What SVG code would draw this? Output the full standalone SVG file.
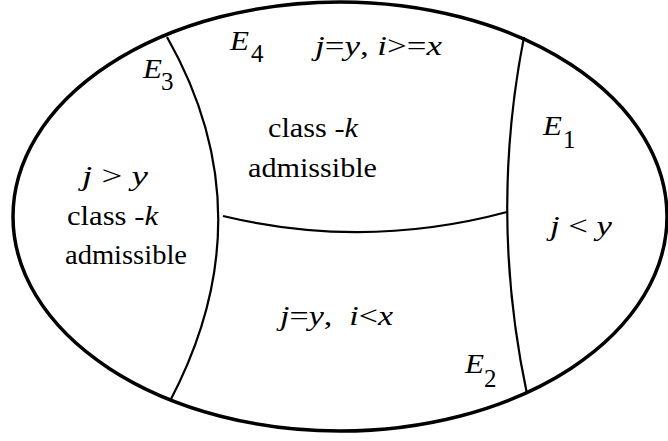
<svg xmlns="http://www.w3.org/2000/svg" width="668" height="441" viewBox="0 0 668 441">
<style>
.t{font-size:27px}
.i{font-style:italic}
.e{font-size:28px;font-style:italic}
.s{font-size:25px}
.outer{fill:none;stroke:#000;stroke-width:3.5}
.div{fill:none;stroke:#000;stroke-width:2.2}
</style>
<rect width="668" height="441" fill="#fff"/>
<g id="boundary">
<ellipse class="outer" cx="340" cy="216.5" rx="327" ry="214.5"/>
</g>
<g id="connectors">
<path class="div" d="M167,37 Q268,215 170,401"/>
<path class="div" d="M524,37 Q489,215 527,394"/>
<path class="div" d="M223,216 Q365,250 507,212"/>
</g>
<g id="E3" style="font-family:'Liberation Serif'">
<text class="e" x="143" y="78" textLength="19" lengthAdjust="spacingAndGlyphs">E</text><text class="s" x="161" y="90">3</text>
<text class="t" x="82" y="185" textLength="66" lengthAdjust="spacingAndGlyphs"><tspan class="i">j</tspan> &gt; <tspan class="i">y</tspan></text>
<text class="t" x="67" y="225" textLength="91" lengthAdjust="spacingAndGlyphs">class -<tspan class="i">k</tspan></text>
<text class="t" x="65" y="264" textLength="122" lengthAdjust="spacingAndGlyphs">admissible</text>
</g>
<g id="E4" style="font-family:'Liberation Serif'">
<text class="e" x="230" y="50" textLength="19" lengthAdjust="spacingAndGlyphs">E</text><text class="s" x="251" y="62">4</text>
<text class="t" x="315" y="55" textLength="127" lengthAdjust="spacingAndGlyphs"><tspan class="i">j</tspan>=<tspan class="i">y</tspan>, <tspan class="i">i</tspan>&gt;=<tspan class="i">x</tspan></text>
<text class="t" x="268" y="137" textLength="90" lengthAdjust="spacingAndGlyphs">class -<tspan class="i">k</tspan></text>
<text class="t" x="248" y="177" textLength="129" lengthAdjust="spacingAndGlyphs">admissible</text>
</g>
<g id="E2" style="font-family:'Liberation Serif'">
<text class="t" x="280" y="325" textLength="113" lengthAdjust="spacingAndGlyphs" xml:space="preserve"><tspan class="i">j</tspan>=<tspan class="i">y</tspan>,  <tspan class="i">i</tspan>&lt;<tspan class="i">x</tspan></text>
<text class="e" x="465" y="373" textLength="19" lengthAdjust="spacingAndGlyphs">E</text><text class="s" x="484" y="387">2</text>
</g>
<g id="E1" style="font-family:'Liberation Serif'">
<text class="e" x="543" y="135" textLength="19" lengthAdjust="spacingAndGlyphs">E</text><text class="s" x="563" y="148">1</text>
<text class="t" x="550" y="235" textLength="62" lengthAdjust="spacingAndGlyphs"><tspan class="i">j</tspan> &lt; <tspan class="i">y</tspan></text>
</g>
</svg>
